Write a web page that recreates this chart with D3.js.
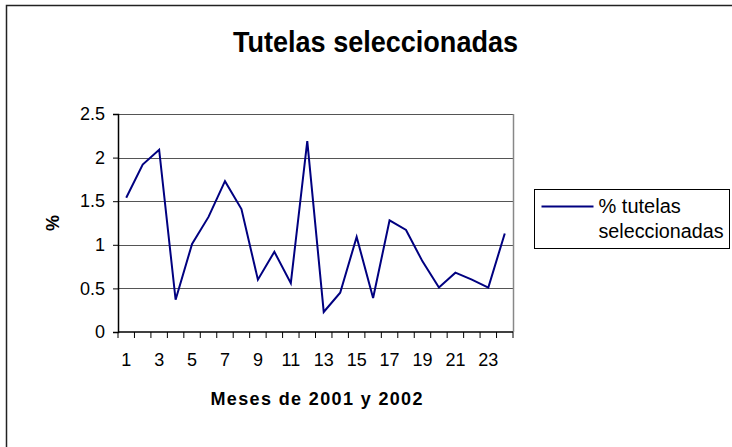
<!DOCTYPE html>
<html>
<head>
<meta charset="utf-8">
<script src="https://cdn.jsdelivr.net/npm/d3@7"></script>
<style>
  body { margin: 0; background: #fff; }
  svg { font-family: "Liberation Sans", Arial, sans-serif; }
</style>
</head>
<body>
<div id="chart"></div>
<script>
// months 1..24, % tutelas seleccionadas
const months = d3.range(1, 25);
const values = [1.54, 1.92, 2.09, 0.37, 1.01, 1.32, 1.73, 1.41, 0.6, 0.92, 0.56, 2.19,
                0.23, 0.45, 1.09, 0.39, 1.28, 1.17, 0.81, 0.51, 0.68, 0.6, 0.51, 1.13];
const yTicks = [0, 0.5, 1, 1.5, 2, 2.5];
const xTickLabels = [1, 3, 5, 7, 9, 11, 13, 15, 17, 19, 21, 23];

const svgWidth = 732;
const svgHeight = 447;
const margin = { top: 114, right: 219, bottom: 115, left: 118 };
const width = svgWidth - margin.left - margin.right;
const height = svgHeight - margin.top - margin.bottom;

const root = d3.select('#chart')
    .append('svg')
    .attr('width', svgWidth)
    .attr('height', svgHeight);

// outer chart frame (cropped on the right and bottom)
root.append('rect')
    .attr('x', 6.5).attr('y', 5.5)
    .attr('width', 740).attr('height', 460)
    .attr('fill', 'none')
    .attr('stroke', '#222')
    .attr('stroke-width', 1.5);

root.append('text')
    .attr('x', 375.5)
    .attr('y', 51.5)
    .attr('text-anchor', 'middle')
    .attr('textLength', 285)
    .attr('lengthAdjust', 'spacingAndGlyphs')
    .style('font-size', '29px')
    .style('font-weight', 'bold')
    .text('Tutelas seleccionadas');

const svg = root.append('g')
    .attr('transform', `translate(${margin.left},${margin.top})`);

const xScale = d3.scaleBand()
    .domain(months)
    .range([0, width]);

const yScale = d3.scaleLinear()
    .domain([0, 2.5])
    .range([height, 0]);

// gridlines
svg.append('g')
    .selectAll('line')
    .data(yTicks.filter(d => d > 0))
    .enter()
    .append('line')
    .attr('x1', 0)
    .attr('x2', width)
    .attr('y1', d => Math.round(yScale(d)) + 0.5)
    .attr('y2', d => Math.round(yScale(d)) + 0.5)
    .attr('stroke', '#555')
    .attr('stroke-width', 1);

// right edge of plot area
svg.append('line')
    .attr('x1', width + 0.5).attr('x2', width + 0.5)
    .attr('y1', 0).attr('y2', height)
    .attr('stroke', '#888')
    .attr('stroke-width', 1.5);

// y axis
const yAxis = svg.append('g')
    .call(d3.axisLeft(yScale).tickValues(yTicks).tickSize(5).tickPadding(8)
        .tickFormat(d => d));
yAxis.select('.domain').attr('stroke', '#000').attr('stroke-width', 1.5);
yAxis.selectAll('text').style('font-size', '18px').attr('fill', '#000')
    .style('font-family', '"Liberation Sans", Arial, sans-serif');

// x axis: ticks between categories, labels on every other month
const xAxis = svg.append('g')
    .attr('transform', `translate(0,${height})`);
xAxis.append('line')
    .attr('x1', 0).attr('x2', width)
    .attr('stroke', '#000').attr('stroke-width', 1.5);
xAxis.selectAll('line.tick')
    .data(months.concat([25]))
    .enter()
    .append('line')
    .attr('class', 'tick')
    .attr('x1', d => (d <= 24 ? xScale(d) : width))
    .attr('x2', d => (d <= 24 ? xScale(d) : width))
    .attr('y1', 0).attr('y2', 6)
    .attr('stroke', '#000');
xAxis.selectAll('text')
    .data(xTickLabels)
    .enter()
    .append('text')
    .attr('x', d => xScale(d) + xScale.bandwidth() / 2)
    .attr('y', 34)
    .attr('text-anchor', 'middle')
    .style('font-size', '18px')
    .text(d => d);

// line
const line = d3.line()
    .x((d, i) => xScale(months[i]) + xScale.bandwidth() / 2)
    .y(d => yScale(d));

svg.append('path')
    .datum(values)
    .attr('d', line)
    .attr('fill', 'none')
    .attr('stroke', '#000080')
    .attr('stroke-width', 2);

// axis titles
root.append('text')
    .attr('x', 316.5)
    .attr('y', 405)
    .attr('text-anchor', 'middle')
    .attr('textLength', 212)
    .attr('lengthAdjust', 'spacing')
    .style('font-size', '18px')
    .style('font-weight', 'bold')
    .text('Meses de 2001 y 2002');

root.append('text')
    .attr('transform', 'translate(59,223) rotate(-90)')
    .attr('text-anchor', 'middle')
    .style('font-size', '18px')
    .style('font-weight', 'bold')
    .text('%');

// legend
const legend = root.append('g')
    .attr('transform', 'translate(534.5,189.5)');
legend.append('rect')
    .attr('width', 195).attr('height', 59)
    .attr('fill', '#fff')
    .attr('stroke', '#000');
legend.append('line')
    .attr('x1', 7).attr('x2', 59)
    .attr('y1', 17).attr('y2', 17)
    .attr('stroke', '#000080')
    .attr('stroke-width', 2);
legend.append('text')
    .attr('x', 64).attr('y', 23)
    .style('font-size', '20px')
    .text('% tutelas');
legend.append('text')
    .attr('x', 64).attr('y', 48.5)
    .attr('textLength', 125)
    .attr('lengthAdjust', 'spacingAndGlyphs')
    .style('font-size', '20px')
    .text('seleccionadas');
</script>
</body>
</html>
